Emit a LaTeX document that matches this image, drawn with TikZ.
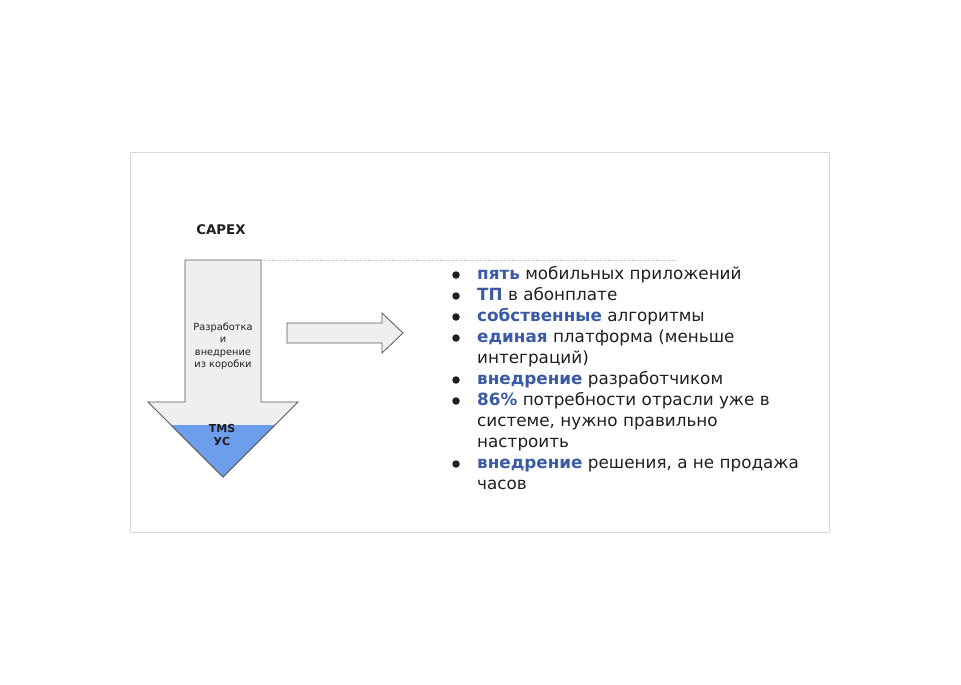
\documentclass[tikz,border=0pt]{standalone}
\usepackage{fontspec}
\setmainfont{DejaVu Sans}
\usetikzlibrary{positioning}
\definecolor{ink}{HTML}{1F1F1F}
\definecolor{accent}{HTML}{3A5AA6}
\definecolor{soft}{HTML}{EFEFEF}
\definecolor{edge}{HTML}{595959}
\definecolor{core}{HTML}{6D9EEB}
\definecolor{frame}{HTML}{D9D9D9}
\newcommand{\hl}[1]{\textcolor{accent}{\textbf{#1}}}

\begin{document}
\begin{tikzpicture}[x=1pt,y=-1pt,
  item/.style={anchor=base west,inner sep=0pt,align=left,text=ink,
    font=\fontsize{16.8}{21}\selectfont},
  dot/.style={circle,fill=ink,inner sep=0pt,minimum size=7.5pt},
  small/.style={align=center,text=ink,inner sep=0pt,font=\fontsize{9.8}{12.5}\selectfont}]
\useasboundingbox (0,0) rectangle (961,685);
\draw[frame] (130,152) rectangle (829,532);
% main down arrow
\draw[edge,line width=0.8pt,fill=soft] (185,260) -- (261,260) -- (261,402) -- (298,402) -- (223,477)
  -- (148,402) -- (185,402) -- cycle;
\fill[core] (171,425) -- (275,425) -- (223,477) -- cycle;
\draw[edge,line width=0.8pt] (171,425) -- (223,477) -- (275,425);
\draw[gray!60,dotted] (262,260) -- (677,260);
\node[font=\fontsize{13.3}{15}\selectfont\bfseries,text=ink] (capex) at (221,230) {CAPEX};
\node[small] (box) at (223,346) {Разработка\\и\\внедрение\\из коробки};
\node[small,font=\fontsize{11}{13.5}\selectfont\bfseries] (core) at (222,435) {TMS\\УС};
% right arrow
\draw[edge,line width=0.8pt,fill=soft] (287,323) -- (382,323) -- (382,313) -- (403,333) -- (382,353)
  -- (382,343) -- (287,343) -- cycle;
% list (base = last line)
\node[item] (i1) at (477,279) {\hl{пять} мобильных приложений};
\node[item] (i2) at (477,300) {\hl{ТП} в абонплате};
\node[item] (i3) at (477,321) {\hl{собственные} алгоритмы};
\node[item] (i4) at (477,363) {\hl{единая} платформа (меньше\\интеграций)};
\node[item] (i5) at (477,384) {\hl{внедрение} разработчиком};
\node[item] (i6) at (477,447) {\hl{86\%} потребности отрасли уже в\\системе, нужно правильно\\настроить};
\node[item] (i7) at (477,489) {\hl{внедрение} решения, а не продажа\\часов};
\foreach \n/\y in {1/275,2/296,3/317,4/338,5/380,6/401,7/464}
  \node[dot] (d\n) at (456,\y) {};
\end{tikzpicture}
\end{document}
